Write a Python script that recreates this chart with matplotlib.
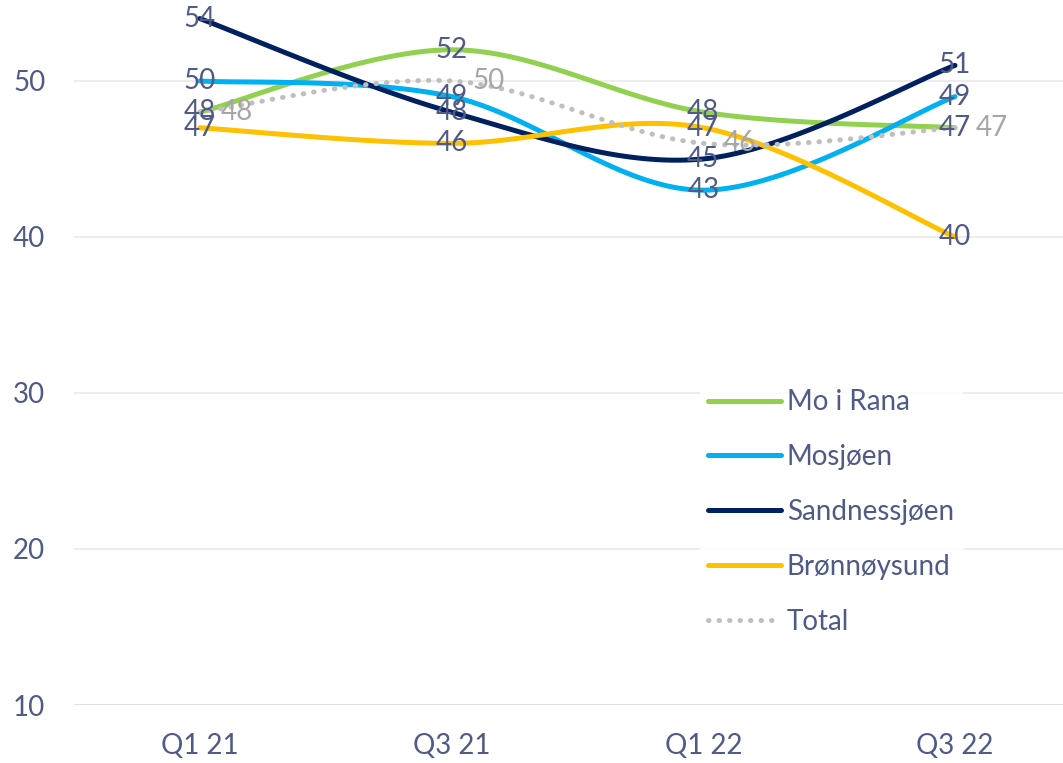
import numpy as np
import matplotlib
matplotlib.use("Agg")
import matplotlib.pyplot as plt

categories = ["Q1 21", "Q3 21", "Q1 22", "Q3 22"]
mo_i_rana = [48, 52, 48, 47]
mosjoen = [50, 49, 43, 49]
sandnessjoen = [54, 48, 45, 51]
bronnoysund = [47, 46, 47, 40]
total = [48, 50, 46, 47]
series_names = ["Mo i Rana", "Mosjøen", "Sandnessjøen", "Brønnøysund", "Total"]
yticks = [10, 20, 30, 40, 50]

colors = ["#92D050", "#00B0F0", "#002060", "#FFC000", "#BFBFBF"]
text_color = "#4F5A86"
font = "Lato"
plt.rcParams["font.family"] = [font, "DejaVu Sans"]
FS = 20

W, H = 1063, 763
fig = plt.figure(figsize=(W / 100, H / 100), dpi=100)
left_px, bottom_px = 74, 705
ax = fig.add_axes([left_px / W, (H - bottom_px) / H, 1 - left_px / W, bottom_px / H])
ax.set_xlim(-0.5, 3.429)
ax.set_ylim(10, 55.19)


def excel_smooth(x, y, n=40):
    x = np.asarray(x, float)
    y = np.asarray(y, float)
    px = np.concatenate([[x[0]], x, [x[-1]]])
    py = np.concatenate([[y[0]], y, [y[-1]]])
    xs, ys = [], []
    t = np.linspace(0, 1, n)
    for i in range(1, len(px) - 2):
        p0 = np.array([px[i], py[i]])
        p3 = np.array([px[i + 1], py[i + 1]])
        c1 = p0 + (np.array([px[i + 1], py[i + 1]]) - np.array([px[i - 1], py[i - 1]])) / 6
        c2 = p3 - (np.array([px[i + 2], py[i + 2]]) - np.array([px[i], py[i]])) / 6
        b = ((1 - t) ** 3)[:, None] * p0 + (3 * (1 - t) ** 2 * t)[:, None] * c1 + \
            (3 * (1 - t) * t ** 2)[:, None] * c2 + (t ** 3)[:, None] * p3
        xs.append(b[:, 0])
        ys.append(b[:, 1])
    return np.concatenate(xs), np.concatenate(ys)


xpos = np.arange(len(categories))
all_series = [mo_i_rana, mosjoen, sandnessjoen, bronnoysund, total]
for vals, name, c in zip(all_series, series_names, colors):
    sx, sy = excel_smooth(xpos, vals)
    if name == "Total":
        ax.plot(sx, sy, color=c, lw=3.6, linestyle=(0, (0.1, 2.0)),
                dash_capstyle="round", label=name, zorder=3)
    else:
        ax.plot(sx, sy, color=c, lw=3.6, solid_capstyle="round", label=name, zorder=3)

for vals, name in zip(all_series, series_names):
    for xi, v in zip(xpos, vals):
        if name == "Total":
            ax.annotate(str(v), (xi, v), xytext=(15, 0), textcoords="offset points",
                        ha="left", va="center", fontsize=FS, color="#A6A6A6", zorder=5)
        else:
            ax.text(xi, v, str(v), ha="center", va="center", fontsize=FS,
                    color=text_color, zorder=5)

ax.set_yticks(yticks)
ax.set_xticks(xpos)
ax.set_xticklabels(categories)
for y in yticks[1:]:
    ax.axhline(y, color="#EDEDED", lw=1.5, zorder=1)
ax.axhline(10, color="#D9DCEB", lw=2, zorder=1)
for s in ax.spines.values():
    s.set_visible(False)
ax.tick_params(axis="both", length=0, labelsize=FS, colors=text_color)
ax.tick_params(axis="x", pad=20)
ax.yaxis.set_tick_params(pad=0)
for lab in ax.get_yticklabels():
    lab.set_horizontalalignment("left")
    lab.set_transform(matplotlib.transforms.blended_transform_factory(fig.transFigure, ax.transData))
    lab.set_x(13 / W)

leg = ax.legend(loc="upper left", bbox_to_anchor=(700 / W, 1 - 381 / H),
                bbox_transform=fig.transFigure, frameon=True, fontsize=FS,
                handlelength=2.6, handletextpad=0.22, labelspacing=1.04,
                borderpad=0.3, borderaxespad=0)
leg.get_frame().set_facecolor("white")
leg.get_frame().set_edgecolor("white")
leg.get_frame().set_boxstyle("square", pad=0)
for t in leg.get_texts():
    t.set_color(text_color)
leg.set_zorder(4)

fig.savefig("out.png", dpi=100)
